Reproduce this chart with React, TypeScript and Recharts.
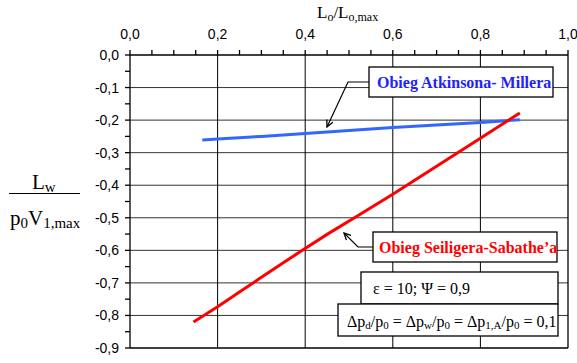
import { LineChart, Line, XAxis, YAxis, ReferenceLine } from 'recharts';

// Lo/Lo,max grid for the two cycles
const atkinsonX = [0.165, 0.2, 0.3, 0.4, 0.5, 0.6, 0.7, 0.8, 0.89];
const atkinsonY = [-0.261, -0.258, -0.25, -0.241, -0.232, -0.223, -0.215, -0.207, -0.199];

const seiligerX = [0.145, 0.2, 0.25, 0.3, 0.35, 0.39, 0.45, 0.52, 0.6, 0.7, 0.8, 0.89];
const seiligerY = [-0.82, -0.773, -0.728, -0.683, -0.638, -0.603, -0.551, -0.494, -0.428, -0.342, -0.256, -0.178];

const xTicks = [0, 0.05, 0.1, 0.15, 0.2, 0.25, 0.3, 0.35, 0.4, 0.45, 0.5, 0.55, 0.6, 0.65, 0.7, 0.75, 0.8, 0.85, 0.9, 0.95, 1];
const yTicks = [0, -0.05, -0.1, -0.15, -0.2, -0.25, -0.3, -0.35, -0.4, -0.45, -0.5, -0.55, -0.6, -0.65, -0.7, -0.75, -0.8, -0.85, -0.9];
const xGrid = [0.2, 0.4, 0.6, 0.8];
const yGrid = [-0.1, -0.2, -0.3, -0.4, -0.5, -0.6, -0.7, -0.8];

const atkinson = atkinsonX.map((x, i) => ({ x, y: atkinsonY[i] }));
const seiliger = seiligerX.map((x, i) => ({ x, y: seiligerY[i] }));

const comma = (v: number) => v.toFixed(1).replace('.', ',');
const fmtX = (v: number) => (Math.round(v * 100) % 20 === 0 ? comma(v) : '');
const fmtY = (v: number) => (Math.round(Math.abs(v) * 100) % 10 === 0 ? comma(v) : '');

const tickFont = { fontSize: 14, fontFamily: '"Liberation Sans", Arial, sans-serif', fill: '#000' };
const serif = '"Liberation Serif", "Times New Roman", serif';

function Overlay() {
  return (
    <svg width={577} height={363} style={{ position: 'absolute', left: 0, top: 0, pointerEvents: 'none' }}>
      <defs>
        <marker id="arr" viewBox="0 0 10 10" refX="9" refY="5" markerWidth="7" markerHeight="7" orient="auto">
          <path d="M1,1 L9,5 L1,9" fill="none" stroke="#000" strokeWidth={1.6} />
        </marker>
      </defs>

      {/* axis titles */}
      <text x={317} y={18} fontFamily={serif} fontSize={17}>
        L<tspan fontSize={12} dy={3}>o</tspan>
        <tspan dy={-3}>/L</tspan>
        <tspan fontSize={12} dy={3}>o,max</tspan>
      </text>
      <text x={32} y={189} fontFamily={serif} fontSize={21}>
        L<tspan fontSize={15} dy={3}>w</tspan>
      </text>
      <line x1={9} y1={193.5} x2={80} y2={193.5} stroke="#000" strokeWidth={1.2} />
      <text x={10} y={225} fontFamily={serif} fontSize={21}>
        p<tspan fontSize={15} dy={3}>0</tspan>
        <tspan dy={-3}>V</tspan>
        <tspan fontSize={15} dy={3}>1,max</tspan>
      </text>

      {/* cycle labels */}
      <polyline points="369,82 348,82 327,127" fill="none" stroke="#000" strokeWidth={1.2} markerEnd="url(#arr)" />
      <rect x={369} y={67} width={184} height={30} fill="#fff" stroke="#000" strokeWidth={1.3} />
      <text x={377} y={87.5} fontFamily={serif} fontSize={16} fontWeight="bold" fill="#2222ff">
        Obieg Atkinsona- Millera
      </text>

      <polyline points="373,247 358,247 344,233" fill="none" stroke="#000" strokeWidth={1.2} markerEnd="url(#arr)" />
      <rect x={373} y={232} width={184} height={30} fill="#fff" stroke="#000" strokeWidth={1.3} />
      <text x={379} y={253} fontFamily={serif} fontSize={16} fontWeight="bold" fill="#ff0000">
        Obieg Seiligera-Sabathe’a
      </text>

      {/* parameters */}
      <rect x={361} y={272} width={197} height={32} fill="#fff" stroke="#000" strokeWidth={1.3} />
      <text x={373} y={294} fontFamily={serif} fontSize={16}>
        ε = 10; Ψ = 0,9
      </text>
      <rect x={338} y={304} width={220} height={32} fill="#fff" stroke="#000" strokeWidth={1.3} />
      <text x={347} y={327} fontFamily={serif} fontSize={16}>
        Δp<tspan fontSize={11} dy={2}>d</tspan>
        <tspan dy={-2}>/p</tspan>
        <tspan fontSize={11} dy={2}>0</tspan>
        <tspan dy={-2}> = Δp</tspan>
        <tspan fontSize={11} dy={2}>w</tspan>
        <tspan dy={-2}>/p</tspan>
        <tspan fontSize={11} dy={2}>0</tspan>
        <tspan dy={-2}> = Δp</tspan>
        <tspan fontSize={11} dy={2}>1,A</tspan>
        <tspan dy={-2}>/p</tspan>
        <tspan fontSize={11} dy={2}>0</tspan>
        <tspan dy={-2}> = 0,1</tspan>
      </text>
    </svg>
  );
}

export default function App() {
  return (
    <div style={{ position: 'absolute', left: 0, top: 0, width: 577, height: 363, background: '#fff' }}>
      <LineChart width={577} height={363} margin={{ top: 15, right: 9, bottom: 15, left: 60 }}>
        <XAxis
          dataKey="x"
          type="number"
          orientation="top"
          domain={[0, 1]}
          ticks={xTicks}
          interval={0}
          tickFormatter={fmtX}
          height={40}
          tickSize={5}
          tickMargin={11}
          tick={tickFont}
          axisLine={{ stroke: '#000', strokeWidth: 1.3 }}
          tickLine={{ stroke: '#000', strokeWidth: 1.3 }}
          allowDataOverflow
        />
        <YAxis
          dataKey="y"
          type="number"
          domain={[-0.9, 0]}
          ticks={yTicks}
          interval={0}
          tickFormatter={fmtY}
          width={70}
          tickSize={5}
          tickMargin={6}
          tick={tickFont}
          axisLine={{ stroke: '#000', strokeWidth: 1.3 }}
          tickLine={{ stroke: '#000', strokeWidth: 1.3 }}
          allowDataOverflow
        />
        {yGrid.map((v) => (
          <ReferenceLine key={'h' + v} y={v} stroke="#333" strokeWidth={1} />
        ))}
        {xGrid.map((v) => (
          <ReferenceLine key={'v' + v} x={v} stroke="#000" strokeWidth={1} />
        ))}
        <ReferenceLine x={1} stroke="#000" strokeWidth={1.3} />
        <ReferenceLine y={-0.9} stroke="#000" strokeWidth={1.3} />
        <Line
          data={atkinson}
          dataKey="y"
          type="linear"
          stroke="#3366ff"
          strokeWidth={3}
          dot={false}
          isAnimationActive={false}
        />
        <Line
          data={seiliger}
          dataKey="y"
          type="linear"
          stroke="#ff0000"
          strokeWidth={3}
          dot={false}
          isAnimationActive={false}
        />
      </LineChart>
      <Overlay />
    </div>
  );
}
